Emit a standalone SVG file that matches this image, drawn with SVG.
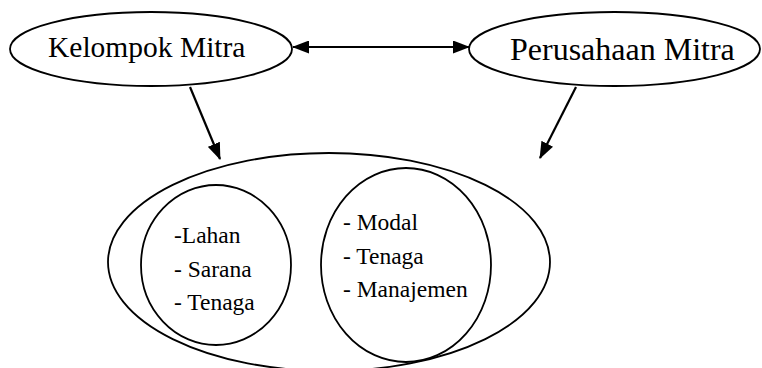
<svg xmlns="http://www.w3.org/2000/svg" width="762" height="368" viewBox="0 0 762 368">
<style>
.s{fill:none;stroke:#000;stroke-width:1.8}
.ln{stroke:#000;stroke-width:2.2;fill:none}
</style>
<defs>
<marker id="ah" markerWidth="17" markerHeight="13" refX="16" refY="6.5" orient="auto" markerUnits="userSpaceOnUse">
<path d="M0,0 L17,6.5 L0,13 Z" fill="#000"/>
</marker>
<marker id="as" markerWidth="17" markerHeight="13" refX="1" refY="6.5" orient="auto" markerUnits="userSpaceOnUse">
<path d="M17,0 L0,6.5 L17,13 Z" fill="#000"/>
</marker>
</defs>
<rect width="762" height="368" fill="#fff"/>
<g id="kelompok">
<ellipse class="s" cx="151" cy="49" rx="141" ry="37"/>
<text font-family="Liberation Serif" x="48" y="57" font-size="29.5">Kelompok Mitra</text>
</g>
<g id="perusahaan">
<ellipse class="s" cx="614.5" cy="49" rx="145.5" ry="37"/>
<text font-family="Liberation Serif" x="510" y="60" font-size="32">Perusahaan Mitra</text>
</g>
<g id="kemitraan">
<ellipse class="s" cx="329" cy="262" rx="221" ry="109"/>
</g>
<g id="kelompok-sumber">
<ellipse class="s" cx="216" cy="265" rx="75" ry="80"/>
<text font-family="Liberation Serif" font-size="23.5"><tspan x="174" y="243">-Lahan</tspan><tspan x="174" y="277">- Sarana</tspan><tspan x="174" y="310">- Tenaga</tspan></text>
</g>
<g id="perusahaan-sumber">
<ellipse class="s" cx="406" cy="265" rx="85" ry="97"/>
<text font-family="Liberation Serif" font-size="23.5"><tspan x="343" y="230">- Modal</tspan><tspan x="343" y="264">- Tenaga</tspan><tspan x="343" y="297">- Manajemen</tspan></text>
</g>
<g id="connectors">
<line class="ln" x1="293" y1="47" x2="469" y2="47" marker-start="url(#as)" marker-end="url(#ah)"/>
<line class="ln" x1="190" y1="87" x2="220" y2="159" marker-end="url(#ah)"/>
<line class="ln" x1="576" y1="87" x2="540" y2="158" marker-end="url(#ah)"/>
</g>
</svg>
